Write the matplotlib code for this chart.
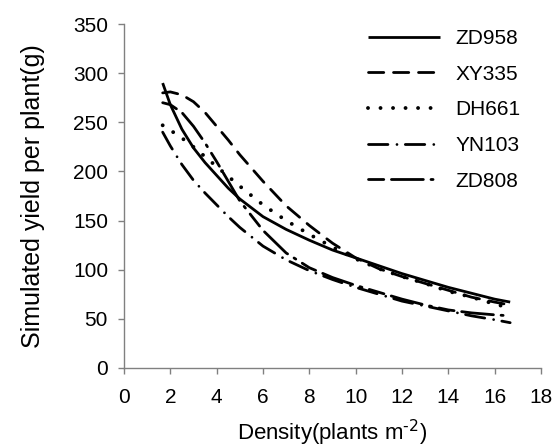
"""Simulated yield per plant versus planting density for five cultivars."""
import matplotlib

matplotlib.use("Agg")
import matplotlib.pyplot as plt

plt.rcParams["font.family"] = ["Liberation Sans", "DejaVu Sans"]
plt.rcParams["mathtext.default"] = "regular"
plt.rcParams["lines.scale_dashes"] = False

density = [1.67, 2, 2.5, 3, 3.5, 4, 4.5, 5, 6, 7, 8, 9, 10, 11, 12, 13, 14, 15, 16, 16.67]

zd958 = [290, 268, 243, 224, 209, 196, 183, 172, 154, 141, 130, 120, 112, 104, 96, 89, 82, 76, 70, 67]
xy335 = [280, 281, 278, 271, 260, 246, 232, 217, 190, 165, 145, 127, 112, 101, 93, 86, 79, 72, 67, 64]
dh661 = [247, 242, 234, 225, 215, 205, 195, 185, 166, 150, 136, 123, 111, 101, 93, 86, 78, 72, 65, 61]
yn103 = [240, 226, 207, 191, 178, 166, 154, 143, 124, 110, 99, 90, 82, 75, 68, 63, 58, 53, 49, 46]
zd808 = [270, 268, 260, 246, 229, 210, 190, 170, 140, 117, 102, 92, 84, 77, 70, 64, 59, 56, 54, 53]

labels = ["ZD958", "XY335", "DH661", "YN103", "ZD808"]
series = [zd958, xy335, dh661, yn103, zd808]

# dash patterns in points (round caps add the line width to each "on" segment)
styles = [
    (2.0, None),
    (2.0, (11, 7)),
    (2.8, (0.01, 9)),
    (2.0, (14, 6.5, 0.01, 6)),
    (2.0, (11, 5.5, 23, 5.5, 1.5, 5.5)),
]

fig = plt.figure(figsize=(5.56, 4.47), dpi=100)
ax = fig.add_axes([0.223, 0.177, 0.75, 0.769])

for lab, ys, (lw, dash) in zip(labels, series, styles):
    line, = ax.plot(density, ys, color="black", lw=lw, label=lab,
                    solid_capstyle="butt", dash_capstyle="round")
    if dash is not None:
        line.set_dashes(dash)

ax.set_xlim(0, 18)
ax.set_ylim(0, 350)
ax.set_xticks(range(0, 19, 2))
ax.set_yticks(range(0, 351, 50))

for side in ("top", "right"):
    ax.spines[side].set_visible(False)
for side in ("left", "bottom"):
    ax.spines[side].set_color("#808080")
    ax.spines[side].set_linewidth(1.0)
ax.tick_params(direction="out", length=4.5, width=1.0, color="#808080",
               labelsize=15)
ax.tick_params(axis="x", pad=10)
ax.tick_params(axis="y", pad=7)

ax.set_xlabel("Density(plants m$^{\\text{-2}}$)", fontsize=16, labelpad=8)
ax.set_ylabel("Simulated yield per plant(g)", fontsize=18, labelpad=20)

ax.legend(loc="upper left", bbox_to_anchor=(0.566, 1.01), frameon=False,
          borderaxespad=0, fontsize=15, handlelength=3.45,
          handletextpad=0.72, labelspacing=0.8)

fig.savefig("out.png", dpi=100)
